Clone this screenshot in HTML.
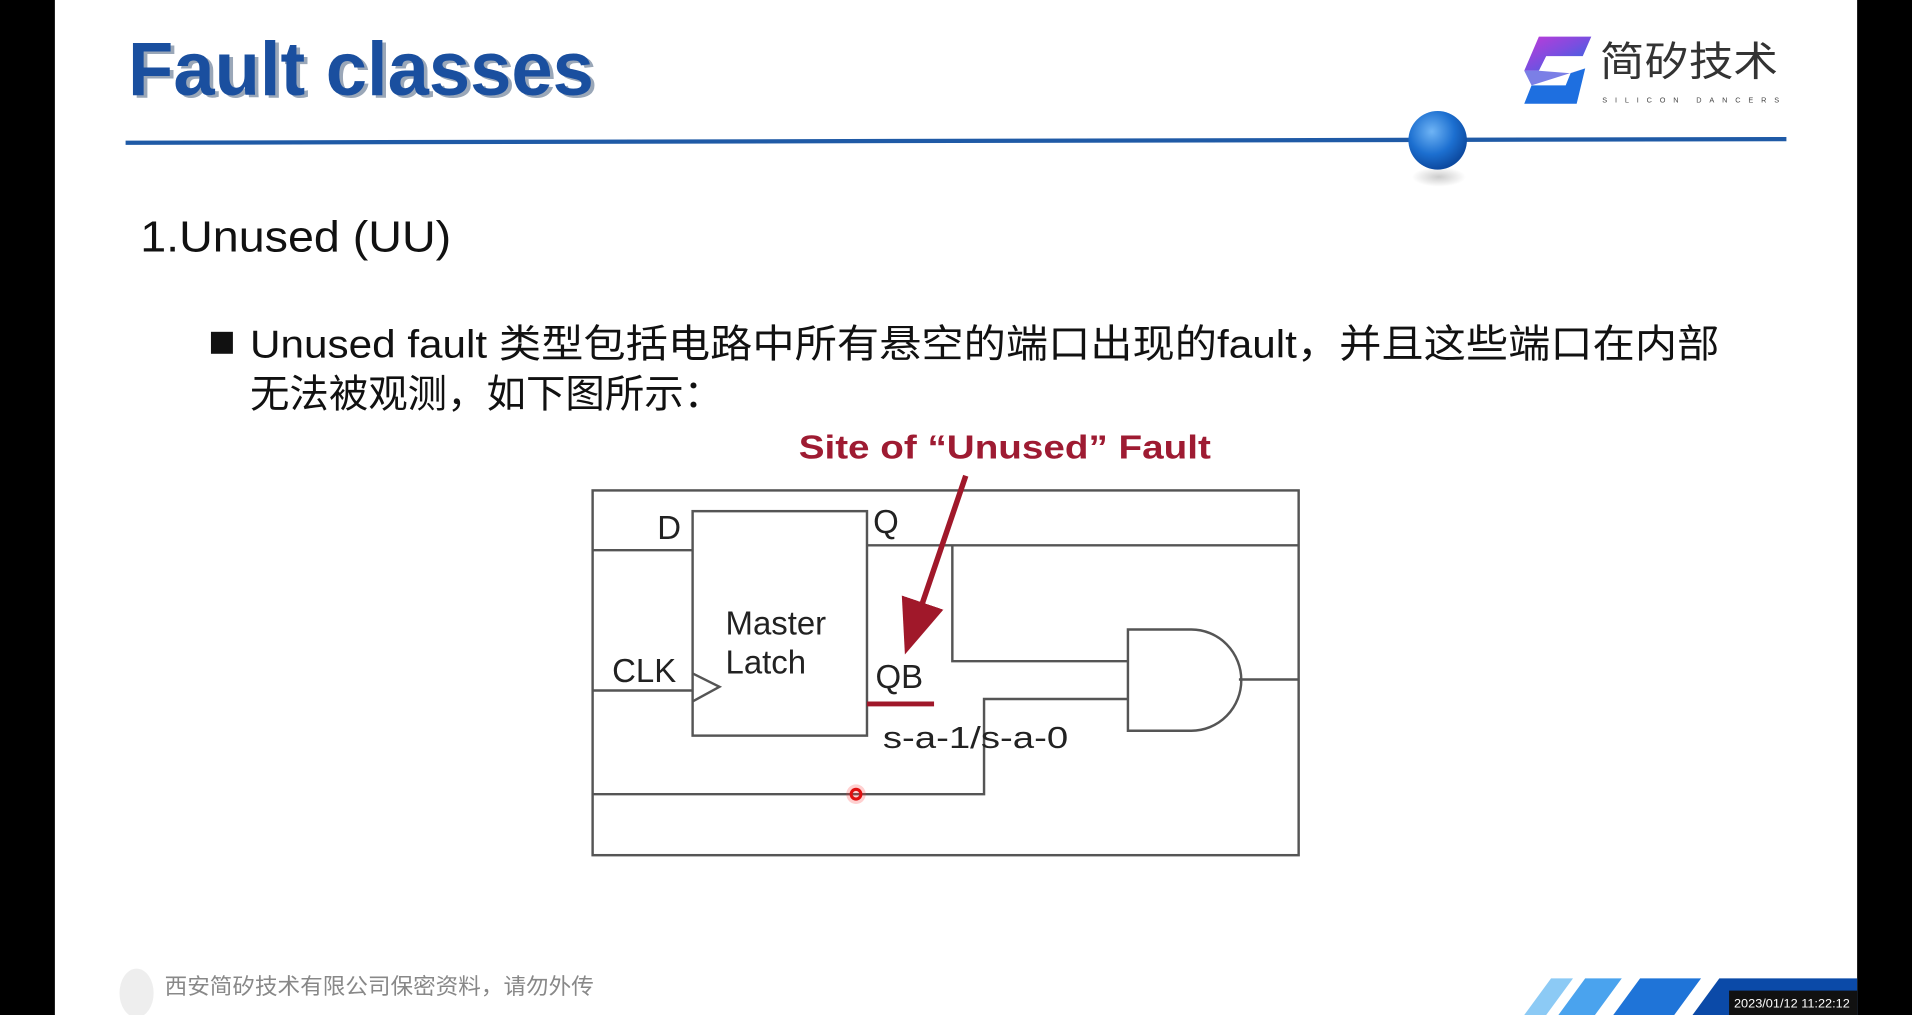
<!DOCTYPE html>
<html><head><meta charset="utf-8"><style>
html,body{margin:0;padding:0;background:#fff;overflow:hidden}
svg{display:block}
</style></head><body>
<svg width="1912" height="1015" viewBox="0 0 1568 832" xmlns="http://www.w3.org/2000/svg" preserveAspectRatio="none">
<defs>
<radialGradient id="ball" cx="40%" cy="35%" r="65%">
<stop offset="0" stop-color="#6fb4f5"/><stop offset="0.6" stop-color="#1c6fd0"/><stop offset="1" stop-color="#0d4aa0"/>
</radialGradient>
<linearGradient id="logo" x1="0" y1="0" x2="1" y2="1">
<stop offset="0" stop-color="#c03ad8"/><stop offset="0.5" stop-color="#7a4ee0"/><stop offset="1" stop-color="#1e6fe0"/>
</linearGradient>
<marker id="ah" markerWidth="10" markerHeight="8" refX="8" refY="4" orient="auto" markerUnits="strokeWidth">
<path d="M0,0 L10,4 L0,8 Z" fill="#a0182a"/>
</marker>
<radialGradient id="shadow" cx="50%" cy="50%" r="50%"><stop offset="0" stop-color="#999" stop-opacity="0.5"/><stop offset="1" stop-color="#999" stop-opacity="0"/></radialGradient>
</defs>
<rect x="0" y="0" width="1568" height="832" fill="#fff"/>
<rect x="0" y="0" width="45" height="832" fill="#000"/>
<rect x="1523" y="0" width="45" height="832" fill="#000"/>

<text x="108" y="80" font-family="Liberation Sans, sans-serif" font-weight="bold" font-size="62" fill="#9aa7b8" textLength="382" lengthAdjust="spacingAndGlyphs">Fault classes</text>
<text x="105" y="78" font-family="Liberation Sans, sans-serif" font-weight="bold" font-size="62" fill="#1a4f9f" textLength="382" lengthAdjust="spacingAndGlyphs">Fault classes</text>

<path d="M1262,30 L1305,30 L1298,46 L1268,46 L1262,58 L1250,58 Z" fill="url(#logo)"/>
<path d="M1300,56 L1293,85 L1250,85 L1256,70 L1284,70 L1288,60 Z" fill="#1e6fe0"/>
<path d="M1250,58 L1262,58 L1288,60 L1300,56 L1256,70 Z" fill="#5a5fe0" opacity="0.8"/>
<text x="1312" y="62" font-family="Noto Sans CJK SC, sans-serif" font-size="33" fill="#333" textLength="146" lengthAdjust="spacingAndGlyphs">简矽技术</text>
<text x="1314" y="84" font-family="Liberation Sans, sans-serif" font-size="6" fill="#444" textLength="145" lengthAdjust="spacing">SILICON    DANCERS</text>

<line x1="103" y1="117" x2="1465" y2="114" stroke="#1f5aa6" stroke-width="3.5"/>
<ellipse cx="1180" cy="145" rx="22" ry="8" fill="url(#shadow)"/>
<circle cx="1179" cy="115" r="24" fill="url(#ball)"/>

<text x="115" y="206" font-family="Liberation Sans, sans-serif" font-size="36" fill="#111" textLength="255" lengthAdjust="spacingAndGlyphs">1.Unused (UU)</text>

<rect x="173" y="272" width="18" height="18" fill="#111"/>
<text x="205" y="293" font-family="Liberation Sans, Noto Sans CJK SC, sans-serif" font-size="32" fill="#111" textLength="1205" lengthAdjust="spacingAndGlyphs">Unused fault 类型包括电路中所有悬空的端口出现的fault，并且这些端口在内部</text>
<text x="205" y="334" font-family="Liberation Sans, Noto Sans CJK SC, sans-serif" font-size="32" fill="#111" textLength="388" lengthAdjust="spacingAndGlyphs">无法被观测，如下图所示：</text>

<g fill="none" stroke="#555" stroke-width="2">
<rect x="486" y="402" width="579" height="299"/>
<rect x="568" y="419" width="143" height="184"/>
<line x1="486" y1="451" x2="568" y2="451"/>
<line x1="486" y1="566" x2="568" y2="566"/>
<polyline points="568,552 590,563 568,575"/>
<line x1="711" y1="447" x2="1065" y2="447"/>
<polyline points="781,447 781,542 925,542"/>
<polyline points="486,651 807,651 807,573 925,573"/>
<path d="M925,516 L977,516 A41,41.5 0 0 1 977,599 L925,599 Z"/>
<line x1="1016" y1="557" x2="1065" y2="557"/>
</g>
<g font-family="Liberation Sans, sans-serif" fill="#222" font-size="27">
<text x="539" y="442">D</text>
<text x="716" y="437">Q</text>
<text x="502" y="559">CLK</text>
<text x="595" y="520">Master</text>
<text x="595" y="552">Latch</text>
<text x="718" y="564">QB</text>
<text x="724" y="613" font-size="25" textLength="152" lengthAdjust="spacingAndGlyphs">s-a-1/s-a-0</text>
</g>
<line x1="711" y1="577" x2="766" y2="577" stroke="#a0182a" stroke-width="4"/>
<line x1="792" y1="390" x2="745" y2="528" stroke="#a0182a" stroke-width="4.5" marker-end="url(#ah)"/>
<text x="655" y="376" font-family="Liberation Sans, sans-serif" font-weight="bold" font-size="27" fill="#9e1b32" textLength="338" lengthAdjust="spacingAndGlyphs">Site of “Unused” Fault</text>
<circle cx="702" cy="651" r="8" fill="#f44" opacity="0.25"/>
<circle cx="702" cy="651" r="4" fill="none" stroke="#e01010" stroke-width="2.5"/>

<ellipse cx="112" cy="814" rx="14" ry="20" fill="#eee"/>
<text x="135" y="815" font-family="Noto Sans CJK SC, sans-serif" font-size="18" fill="#888" textLength="352" lengthAdjust="spacingAndGlyphs">西安简矽技术有限公司保密资料，请勿外传</text>
<polygon points="1272,802 1290,802 1268,832 1250,832" fill="#8ccaf5"/>
<polygon points="1300,802 1330,802 1308,832 1278,832" fill="#4aa3ee"/>
<polygon points="1345,802 1395,802 1373,832 1323,832" fill="#1f74d8"/>
<polygon points="1410,802 1523,802 1523,832 1388,832" fill="#0b4aa8"/>
<rect x="1418" y="812" width="105" height="20" fill="#111"/>
<text x="1422" y="826" font-family="Liberation Sans, sans-serif" font-size="10" fill="#fff" textLength="95" lengthAdjust="spacingAndGlyphs">2023/01/12 11:22:12</text>
</svg>
</body></html>
